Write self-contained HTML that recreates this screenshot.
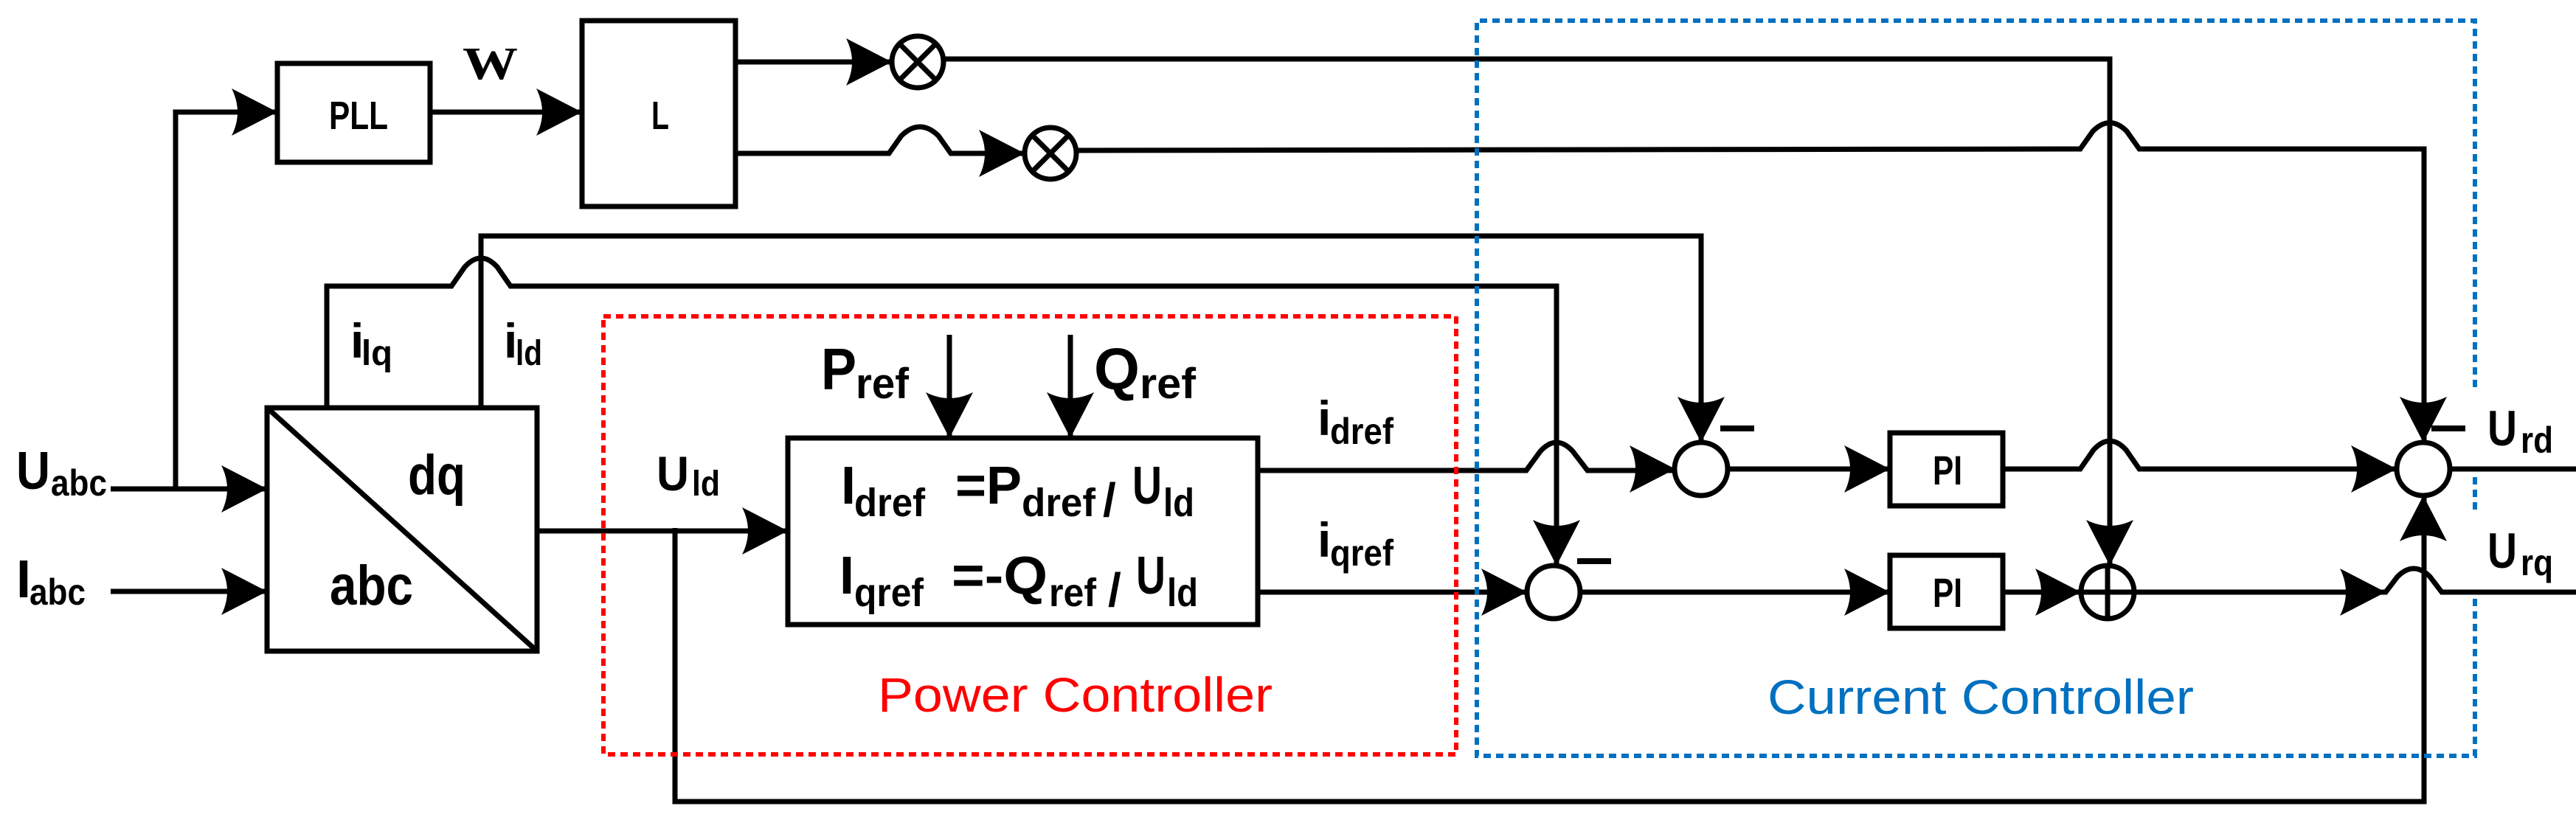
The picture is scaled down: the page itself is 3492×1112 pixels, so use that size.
<!DOCTYPE html>
<html><head><meta charset="utf-8"><style>
html,body{margin:0;padding:0;background:#fff;}
svg{display:block;}
text{font-family:"Liberation Sans",sans-serif;font-weight:bold;fill:#000;}
</style></head><body>
<svg width="3492" height="1112" viewBox="0 0 3492 1112" xmlns="http://www.w3.org/2000/svg">
<defs>
<path id="ar" d="M0,0 L-62,-32 Q-46,0 -62,32 Z" fill="#000"/>
</defs>
<g fill="none" stroke="#000" stroke-width="7">
<rect x="376" y="86" width="207" height="134"/>
<rect x="789" y="28" width="208" height="252"/>
<rect x="362" y="553" width="366" height="330"/>
<line x1="362" y1="553" x2="728" y2="883"/>
<rect x="1068" y="594" width="637" height="253"/>
<rect x="2562" y="587" width="153" height="99"/>
<rect x="2562" y="753" width="153" height="99"/>
<circle cx="1244" cy="84" r="35"/>
<line x1="1219" y1="59" x2="1269" y2="109"/><line x1="1269" y1="59" x2="1219" y2="109"/>
<circle cx="1424" cy="208" r="35"/>
<line x1="1399" y1="183" x2="1449" y2="233"/><line x1="1449" y1="183" x2="1399" y2="233"/>
<circle cx="2306" cy="636" r="36"/>
<circle cx="2106" cy="803" r="36"/>
<circle cx="2857" cy="803" r="36"/>
<line x1="2857" y1="767" x2="2857" y2="839"/><line x1="2821" y1="803" x2="2893" y2="803"/>
<circle cx="3285" cy="636" r="36"/>
<polyline points="150,663 362,663"/>
<polyline points="238,663 238,152 376,152"/>
<line x1="583" y1="152" x2="789" y2="152"/>
<line x1="150" y1="802" x2="362" y2="802"/>
<line x1="997" y1="84" x2="1209" y2="84"/>
<path d="M997,208 L1205,208 L1222,184 Q1247,160 1272,184 L1289,208 L1389,208"/>
<polyline points="1279,80 2860,80 2860,767"/>
<path d="M1459,204 L2820,202 L2837,178 Q2860,155 2883,178 L2900,202 L3286,202 L3286,600"/>
<path d="M443,553 L443,388 L612,388 L630,362 Q652,338 674,362 L692,388 L2110,388 L2110,767"/>
<polyline points="652,553 652,320 2306,320 2306,600"/>
<line x1="728" y1="720" x2="1068" y2="720"/>
<polyline points="915,716 915,1087 3286,1087 3286,672"/>
<line x1="1287" y1="454" x2="1287" y2="594"/>
<line x1="1451" y1="454" x2="1451" y2="594"/>
<path d="M1705,638 L2069,638 L2088,612 Q2110,588 2132,612 L2152,638 L2271,638"/>
<line x1="1705" y1="803" x2="2070" y2="803"/>
<line x1="2342" y1="636" x2="2562" y2="636"/>
<line x1="2142" y1="803" x2="2562" y2="803"/>
<line x1="2715" y1="803" x2="2821" y2="803"/>
<path d="M2715,636 L2820,636 L2838,610 Q2860,586 2882,610 L2900,636 L3249,636"/>
<path d="M2893,803 L3234,803 L3250,782 Q3272,760 3294,782 L3310,803 L3492,803"/>
<line x1="3321" y1="636" x2="3492" y2="636"/>
<line x1="2332" y1="581" x2="2378" y2="581" stroke-width="8"/>
<line x1="2138" y1="761" x2="2184" y2="761" stroke-width="8"/>
<line x1="3296" y1="581" x2="3342" y2="581" stroke-width="8"/>
</g>
<rect x="818" y="429" width="1156" height="594" fill="none" stroke="#f00" stroke-width="6" stroke-dasharray="10 7"/>
<path d="M3355,525 L3355,28 L2002,28 L2002,1025 L3355,1025 L3355,808 M3355,691 L3355,640" fill="none" stroke="#0070C0" stroke-width="6" stroke-dasharray="10 7"/>
<use href="#ar" transform="translate(376,152)"/>
<use href="#ar" transform="translate(789,152)"/>
<use href="#ar" transform="translate(1209,84)"/>
<use href="#ar" transform="translate(1389,208)"/>
<use href="#ar" transform="translate(362,663)"/>
<use href="#ar" transform="translate(362,802)"/>
<use href="#ar" transform="translate(1068,720)"/>
<use href="#ar" transform="translate(1287,594) rotate(90)"/>
<use href="#ar" transform="translate(1451,594) rotate(90)"/>
<use href="#ar" transform="translate(2271,636)"/>
<use href="#ar" transform="translate(2070,803)"/>
<use href="#ar" transform="translate(2306,600) rotate(90)"/>
<use href="#ar" transform="translate(2110,767) rotate(90)"/>
<use href="#ar" transform="translate(2562,636)"/>
<use href="#ar" transform="translate(2562,803)"/>
<use href="#ar" transform="translate(2821,803)"/>
<use href="#ar" transform="translate(2860,767) rotate(90)"/>
<use href="#ar" transform="translate(3249,636)"/>
<use href="#ar" transform="translate(3285,600) rotate(90)"/>
<use href="#ar" transform="translate(3285,672) rotate(-90)"/>
<use href="#ar" transform="translate(3234,803)"/>
<text x="446" y="175" font-size="54" textLength="80" lengthAdjust="spacingAndGlyphs">PLL</text>
<text x="883" y="175" font-size="54" textLength="24" lengthAdjust="spacingAndGlyphs">L</text>
<text x="2620" y="657" font-size="56" textLength="40" lengthAdjust="spacingAndGlyphs">PI</text>
<text x="2620" y="823" font-size="56" textLength="40" lengthAdjust="spacingAndGlyphs">PI</text>
<text x="627" y="107" font-size="62" style="font-family:'Liberation Serif',serif" textLength="75" lengthAdjust="spacingAndGlyphs">W</text>
<text x="22" y="663" font-size="72" textLength="46" lengthAdjust="spacingAndGlyphs">U</text>
<text x="69" y="672" font-size="50" textLength="76" lengthAdjust="spacingAndGlyphs">abc</text>
<text x="22" y="810" font-size="72">I</text>
<text x="40" y="820" font-size="50" textLength="76" lengthAdjust="spacingAndGlyphs">abc</text>
<text x="553" y="670" font-size="76" textLength="78" lengthAdjust="spacingAndGlyphs">dq</text>
<text x="447" y="820" font-size="76" textLength="113" lengthAdjust="spacingAndGlyphs">abc</text>
<text x="475" y="485" font-size="66">i</text>
<text x="490" y="495" font-size="48" textLength="42" lengthAdjust="spacingAndGlyphs">lq</text>
<text x="683" y="485" font-size="66">i</text>
<text x="699" y="495" font-size="48" textLength="36" lengthAdjust="spacingAndGlyphs">ld</text>
<text x="890" y="665" font-size="66" textLength="44" lengthAdjust="spacingAndGlyphs">U</text>
<text x="938" y="672" font-size="48" textLength="38" lengthAdjust="spacingAndGlyphs">ld</text>
<text x="1113" y="528" font-size="80" textLength="48" lengthAdjust="spacingAndGlyphs">P</text>
<text x="1160" y="540" font-size="58" textLength="72" lengthAdjust="spacingAndGlyphs">ref</text>
<text x="1483" y="528" font-size="80" textLength="62" lengthAdjust="spacingAndGlyphs">Q</text>
<text x="1545" y="540" font-size="58" textLength="76" lengthAdjust="spacingAndGlyphs">ref</text>
<text x="1140" y="683" font-size="72">I</text>
<text x="1158" y="700" font-size="54" textLength="96" lengthAdjust="spacingAndGlyphs">dref</text>
<text x="1295" y="683" font-size="72" textLength="90" lengthAdjust="spacingAndGlyphs">=P</text>
<text x="1385" y="700" font-size="54" textLength="100" lengthAdjust="spacingAndGlyphs">dref</text>
<text x="1495" y="700" font-size="64">/</text>
<text x="1535" y="683" font-size="72" textLength="40" lengthAdjust="spacingAndGlyphs">U</text>
<text x="1577" y="700" font-size="54" textLength="42" lengthAdjust="spacingAndGlyphs">ld</text>
<text x="1138" y="805" font-size="72">I</text>
<text x="1158" y="822" font-size="54" textLength="94" lengthAdjust="spacingAndGlyphs">qref</text>
<text x="1290" y="805" font-size="72" textLength="130" lengthAdjust="spacingAndGlyphs">=-Q</text>
<text x="1422" y="822" font-size="54" textLength="64" lengthAdjust="spacingAndGlyphs">ref</text>
<text x="1502" y="822" font-size="64">/</text>
<text x="1540" y="805" font-size="72" textLength="40" lengthAdjust="spacingAndGlyphs">U</text>
<text x="1582" y="822" font-size="54" textLength="42" lengthAdjust="spacingAndGlyphs">ld</text>
<text x="1786" y="590" font-size="66">i</text>
<text x="1803" y="602" font-size="50" textLength="86" lengthAdjust="spacingAndGlyphs">dref</text>
<text x="1786" y="755" font-size="66">i</text>
<text x="1803" y="767" font-size="50" textLength="86" lengthAdjust="spacingAndGlyphs">qref</text>
<text x="3372" y="604" font-size="68" textLength="40" lengthAdjust="spacingAndGlyphs">U</text>
<text x="3417" y="614" font-size="50" textLength="44" lengthAdjust="spacingAndGlyphs">rd</text>
<text x="3372" y="770" font-size="68" textLength="40" lengthAdjust="spacingAndGlyphs">U</text>
<text x="3417" y="780" font-size="50" textLength="44" lengthAdjust="spacingAndGlyphs">rq</text>
<text x="1190" y="965" font-size="66" style="font-weight:normal;fill:#f00" textLength="535" lengthAdjust="spacingAndGlyphs">Power Controller</text>
<text x="2396" y="968" font-size="66" style="font-weight:normal;fill:#0070C0" textLength="578" lengthAdjust="spacingAndGlyphs">Current Controller</text>
</svg>
</body></html>
